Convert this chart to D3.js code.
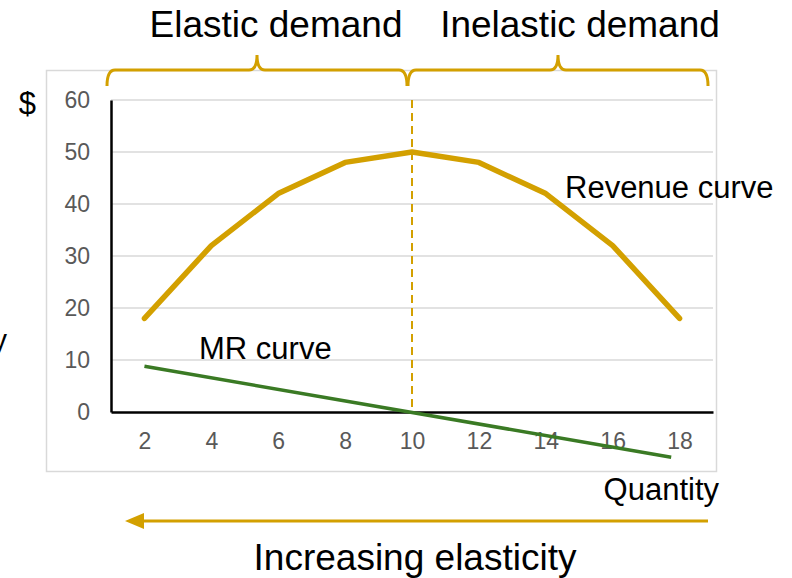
<!DOCTYPE html>
<html>
<head>
<meta charset="utf-8">
<script src="https://cdn.jsdelivr.net/npm/d3@7"></script>
<style>
  html, body { margin: 0; padding: 0; background: #fff; }
  svg { display: block; font-family: "Liberation Sans", Arial, sans-serif; }
</style>
</head>
<body>
<svg id="chart" width="792" height="578"></svg>
<script>
// ---- data ----
const quantities = [2, 4, 6, 8, 10, 12, 14, 16, 18];
const revenue = [18, 32, 42, 48, 50, 48, 42, 32, 18];
const mrQuantity = [2, 17.75];
const mrValue = [8.8, -8.7];
const yTicks = [0, 10, 20, 30, 40, 50, 60];
const peakQuantity = 10;
const braceLabels = ["Elastic demand", "Inelastic demand"];

const gold = "#d3a000";
const green = "#3a7a24";
const grid = "#d9d9d9";
const tickColor = "#595959";

const svg = d3.select("#chart");

const x = d3.scaleLinear().domain([1, 19]).range([111, 713]);
const y = d3.scaleLinear().domain([0, 60]).range([412, 100]);

// outer border
svg.append("rect")
  .attr("x", 46.5).attr("y", 70.5).attr("width", 670).attr("height", 401)
  .attr("fill", "none").attr("stroke", grid).attr("stroke-width", 1.5);

// gridlines
svg.append("g").selectAll("line")
  .data(yTicks.filter(d => d > 0))
  .join("line")
  .attr("x1", x.range()[0]).attr("x2", x.range()[1])
  .attr("y1", d => y(d)).attr("y2", d => y(d))
  .attr("stroke", grid).attr("stroke-width", 1.5);

// axes
const yAxis = svg.append("g")
  .attr("transform", `translate(${x.range()[0]},0)`)
  .call(d3.axisLeft(y).tickValues(yTicks).tickSize(0).tickSizeOuter(0).tickPadding(21));
const xAxis = svg.append("g")
  .attr("transform", `translate(0,${y(0)})`)
  .call(d3.axisBottom(x).tickValues(quantities).tickSize(0).tickSizeOuter(0).tickPadding(21));
[yAxis, xAxis].forEach(g => {
  g.select(".domain").attr("stroke", "#000").attr("stroke-width", 2.5);
  g.selectAll("text").attr("fill", tickColor)
    .style("font-family", '"Liberation Sans", Arial, sans-serif')
    .style("font-size", "23px");
});

// dashed vertical at revenue peak
svg.append("line")
  .attr("x1", x(peakQuantity)).attr("x2", x(peakQuantity))
  .attr("y1", y(60)).attr("y2", y(0))
  .attr("stroke", gold).attr("stroke-width", 2)
  .attr("stroke-dasharray", "8,5");

// revenue line
const revLine = d3.line().x((d, i) => x(quantities[i])).y(d => y(d));
svg.append("path")
  .datum(revenue)
  .attr("d", revLine)
  .attr("fill", "none").attr("stroke", gold).attr("stroke-width", 5.5)
  .attr("stroke-linecap", "round").attr("stroke-linejoin", "round");

// MR line
const mrLine = d3.line().x((d, i) => x(mrQuantity[i])).y(d => y(d));
svg.append("path")
  .datum(mrValue)
  .attr("d", mrLine)
  .attr("fill", "none").attr("stroke", green).attr("stroke-width", 3.5);

// braces
function brace(x0, x1, yTop, yBot, yPeak, r) {
  const xm = (x0 + x1) / 2;
  return `M${x0},${yBot} Q${x0},${yTop} ${x0 + r},${yTop} L${xm - r},${yTop} ` +
         `Q${xm},${yTop} ${xm},${yPeak} Q${xm},${yTop} ${xm + r},${yTop} ` +
         `L${x1 - r},${yTop} Q${x1},${yTop} ${x1},${yBot}`;
}
const braceX = [[107, 407], [408, 708]];
svg.append("g").selectAll("path")
  .data(braceX)
  .join("path")
  .attr("d", d => brace(d[0], d[1], 70, 86, 55, 8))
  .attr("fill", "none").attr("stroke", gold).attr("stroke-width", 3);

svg.append("g").selectAll("text")
  .data(braceLabels)
  .join("text")
  .attr("x", (d, i) => [276, 580][i])
  .attr("y", 37)
  .attr("text-anchor", "middle")
  .style("font-size", "37px")
  .text(d => d);

// annotations
svg.append("text").attr("x", 565).attr("y", 198).style("font-size", "31px").text("Revenue curve");
svg.append("text").attr("x", 199).attr("y", 359).style("font-size", "31px").text("MR curve");
svg.append("text").attr("x", 719).attr("y", 500).attr("text-anchor", "end").style("font-size", "31px").text("Quantity");
svg.append("text").attr("x", 36).attr("y", 114).attr("text-anchor", "end").style("font-size", "31px").text("$");
svg.append("text").attr("x", 7).attr("y", 350).attr("text-anchor", "end").style("font-size", "29px").text("y");

// arrow
svg.append("line")
  .attr("x1", 708).attr("x2", 140).attr("y1", 521).attr("y2", 521)
  .attr("stroke", gold).attr("stroke-width", 3);
svg.append("path")
  .attr("d", "M125,521 L144,513 L144,529 Z")
  .attr("fill", gold);

svg.append("text").attr("x", 415).attr("y", 570).attr("text-anchor", "middle")
  .style("font-size", "37px").text("Increasing elasticity");
</script>
</body>
</html>
